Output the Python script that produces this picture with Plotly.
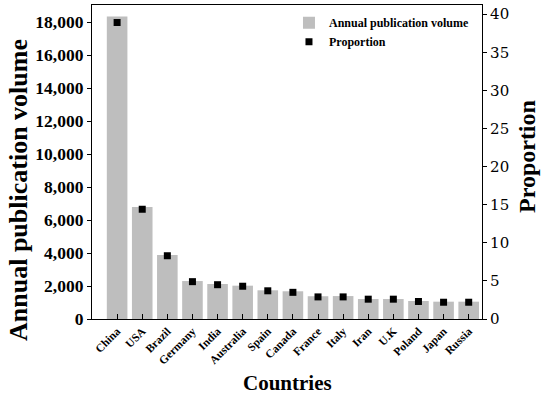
import plotly.graph_objects as go

countries = ["China", "USA", "Brazil", "Germany", "India", "Australia", "Spain",
             "Canada", "France", "Italy", "Iran", "U.K", "Poland", "Japan", "Russia"]
volume = [18340, 6790, 3880, 2300, 2120, 2020, 1740, 1680, 1380, 1390, 1210, 1210, 1090, 1050, 1050]
proportion = [38.9, 14.4, 8.3, 4.9, 4.5, 4.3, 3.7, 3.5, 2.9, 2.9, 2.6, 2.6, 2.3, 2.2, 2.2]
left_ticks = [0, 2000, 4000, 6000, 8000, 10000, 12000, 14000, 16000, 18000]
right_ticks = [0, 5, 10, 15, 20, 25, 30, 35, 40]

serif = "Liberation Serif"

fig = go.Figure()
fig.add_trace(go.Bar(x=countries, y=volume, name="Annual publication volume",
                     marker=dict(color="#bebebe", line=dict(width=0)), yaxis="y"))
fig.add_trace(go.Scatter(x=countries, y=proportion, name="Proportion", mode="markers",
                         marker=dict(symbol="square", size=7, color="black"), yaxis="y2"))

fig.update_layout(
    width=550, height=395,
    margin=dict(l=92, r=68, t=5, b=76, autoexpand=False),
    paper_bgcolor="white", plot_bgcolor="white",
    bargap=0.18,
    showlegend=True,
    legend=dict(x=0.982, y=0.99, xanchor="right", yanchor="top",
                bgcolor="rgba(0,0,0,0)", font=dict(family=serif, size=12, color="black", weight="bold"),
                tracegroupgap=0),
    xaxis=dict(type="category", range=[-1.0, 14.53], showline=True, linecolor="black", linewidth=1.2,
               mirror=True, ticks="inside", ticklen=5, tickcolor="black", tickangle=-45,
               tickfont=dict(family=serif, size=11.5, color="black", weight="bold"),
               automargin=False, showgrid=False),
    yaxis=dict(range=[0, 19030], tickvals=left_ticks, tickformat=",", showline=True, linecolor="black",
               linewidth=1.2, ticks="outside", ticklen=4, tickcolor="black", showgrid=False, zeroline=False,
               automargin=False,
               tickfont=dict(family=serif, size=17.5, color="black", weight="bold")),
    yaxis2=dict(range=[0, 41.2], tickvals=right_ticks, overlaying="y", side="right", showline=True,
                linecolor="black", linewidth=1.2, ticks="outside", ticklen=4, tickcolor="black",
                showgrid=False, zeroline=False, automargin=False,
                tickfont=dict(family="DejaVu Serif", size=15, color="black")),
    annotations=[
        dict(text="Countries", xref="paper", yref="paper", x=0.5, y=0, yshift=-64,
             xanchor="center", yanchor="middle", showarrow=False,
             font=dict(family=serif, size=21, color="black", weight="bold")),
        dict(text="Annual publication volume", xref="paper", yref="paper", x=0, xshift=-74, y=0.5,
             yshift=-28, xanchor="center", yanchor="middle", textangle=-90, showarrow=False,
             font=dict(family=serif, size=26, color="black", weight="bold")),
        dict(text="Proportion", xref="paper", yref="paper", x=1, xshift=45, y=0.5, yshift=5,
             xanchor="center", yanchor="middle", textangle=-90, showarrow=False,
             font=dict(family=serif, size=24, color="black", weight="bold")),
    ],
)

fig.write_html("out.html", config={"displayModeBar": False},
               post_script="document.body.style.margin='0';")
